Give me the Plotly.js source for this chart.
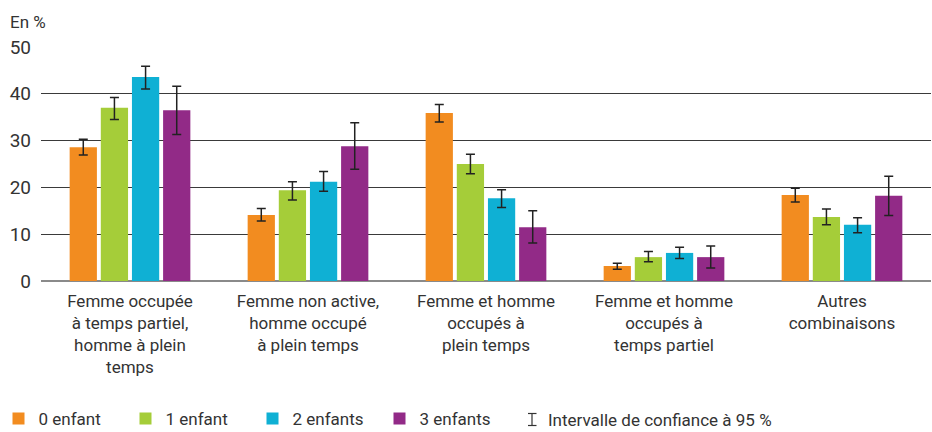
<!DOCTYPE html>
<html><head><meta charset="utf-8">
<script src="https://cdn.plot.ly/plotly-3.0.1.min.js"></script>
<style>body{margin:0;padding:0;background:#fff}#chart{width:932px;height:432px}</style>
</head><body><div id="chart"></div>
<script>
const categories = [
  "Femme occupée<br>à temps partiel,<br>homme à plein<br>temps",
  "Femme non active,<br>homme occupé<br>à plein temps",
  "Femme et homme<br>occupés à<br>plein temps",
  "Femme et homme<br>occupés à<br>temps partiel",
  "Autres<br>combinaisons"
];
const seriesNames = ["0 enfant", "1 enfant", "2 enfants", "3 enfants"];
const enfant0 = [28.6, 14.1, 35.9, 3.2, 18.4];
const enfant0Hi = [30.3, 15.5, 37.7, 3.8, 19.8];
const enfant0Lo = [26.9, 12.8, 34.0, 2.5, 16.9];
const enfant1 = [37.0, 19.4, 25.0, 5.1, 13.7];
const enfant1Hi = [39.2, 21.2, 27.1, 6.3, 15.4];
const enfant1Lo = [34.5, 17.3, 22.9, 4.1, 12.0];
const enfant2 = [43.6, 21.2, 17.7, 6.0, 12.0];
const enfant2Hi = [45.9, 23.4, 19.5, 7.2, 13.5];
const enfant2Lo = [41.0, 19.2, 15.7, 4.8, 10.3];
const enfant3 = [36.5, 28.8, 11.5, 5.1, 18.2];
const enfant3Hi = [41.6, 33.8, 15.0, 7.5, 22.4];
const enfant3Lo = [31.3, 23.9, 8.1, 2.8, 14.0];
const yTicks = [0, 10, 20, 30, 40, 50];
const ciLabel = "Intervalle de confiance à 95 %";
const colors = ["#F28C20", "#A5CD39", "#0FB0D4", "#922A87"];

const vals = [enfant0, enfant1, enfant2, enfant3];
const his = [enfant0Hi, enfant1Hi, enfant2Hi, enfant3Hi];
const los = [enfant0Lo, enfant1Lo, enfant2Lo, enfant3Lo];
const FONT = "Roboto, 'Liberation Sans', sans-serif";
const TXT = "#333333";

const traces = vals.map((v, i) => ({
  type: "bar",
  name: seriesNames[i],
  x: categories,
  y: v,
  marker: {color: colors[i], line: {width: 0}},
  error_y: {
    type: "data", symmetric: false,
    array: his[i].map((h, k) => h - v[k]),
    arrayminus: v.map((y, k) => y - los[i][k]),
    color: "#222222", thickness: 1.5, width: 4.5
  },
  hoverinfo: "y"
}));

// paper-coordinate helpers (plot area: x 41..931, y 47..281)
const px = p => (p - 41) / 890;
const py = p => (281 - p) / 234;

const layout = {
  width: 932, height: 432,
  margin: {l: 41, r: 1, t: 47, b: 151, autoexpand: false},
  paper_bgcolor: "#fff", plot_bgcolor: "#fff",
  font: {family: FONT, size: 17, color: TXT},
  barmode: "group",
  bargap: 0.30,
  bargroupgap: 0.125,
  showlegend: true,
  legend: {
    orientation: "h", x: px(-1.5), xanchor: "left", y: py(419), yanchor: "middle",
    font: {family: FONT, size: 17, color: TXT},
    entrywidth: 82, entrywidthmode: "pixels",
    itemwidth: 30, traceorder: "normal", bgcolor: "rgba(0,0,0,0)"
  },
  xaxis: {
    type: "category", automargin: false,
    showgrid: false, showline: false, zeroline: false,
    ticks: "", ticklabelstandoff: 8,
    tickfont: {family: FONT, size: 17, color: TXT},
    tickangle: 0
  },
  yaxis: {
    range: [0, 50], tickvals: yTicks, automargin: false,
    showgrid: true, gridcolor: "#3a3a3a", gridwidth: 1,
    zeroline: true, zerolinecolor: "#8a8a8a", zerolinewidth: 2,
    showline: false, ticks: "", ticklabelstandoff: 9,
    tickfont: {family: FONT, size: 19, color: TXT}
  },
  annotations: [
    {xref: "paper", yref: "paper", x: px(8), y: py(22.5), xanchor: "left", yanchor: "middle",
     text: "En %", showarrow: false, font: {family: FONT, size: 17, color: TXT}},
    {xref: "paper", yref: "paper", x: px(546), y: py(419.5), xanchor: "left", yanchor: "middle",
     text: ciLabel, showarrow: false, font: {family: FONT, size: 17, color: TXT}}
  ],
  shapes: [
    {type: "line", xref: "paper", yref: "paper", x0: px(532), x1: px(532), y0: py(413), y1: py(426), line: {color: "#333", width: 1.2}},
    {type: "line", xref: "paper", yref: "paper", x0: px(528), x1: px(536.5), y0: py(413.5), y1: py(413.5), line: {color: "#333", width: 1.2}},
    {type: "line", xref: "paper", yref: "paper", x0: px(528), x1: px(536.5), y0: py(425.5), y1: py(425.5), line: {color: "#333", width: 1.2}}
  ]
};

Plotly.newPlot("chart", traces, layout, {displayModeBar: false, staticPlot: true});
</script></body></html>
